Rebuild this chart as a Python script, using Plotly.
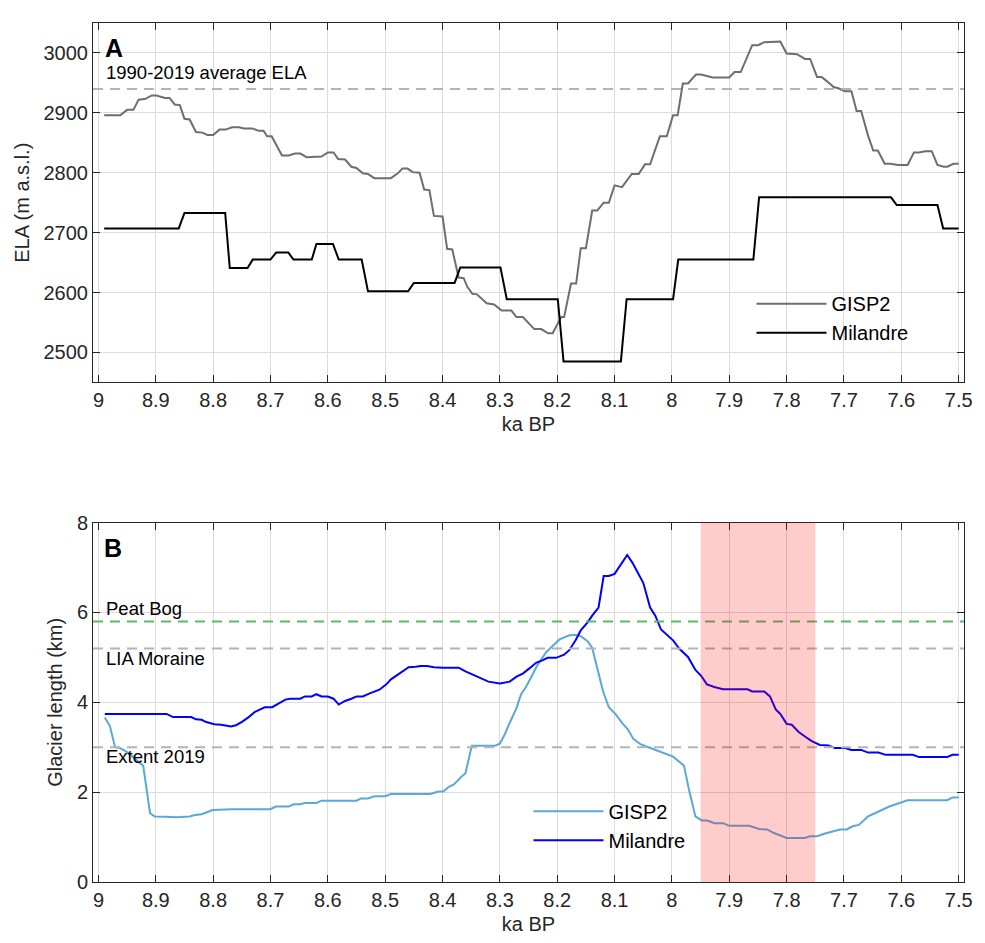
import plotly.graph_objects as go

# ---------------- Panel A: equilibrium line altitude (m a.s.l.) ----------------
gisp2_ela_ka = [
    8.990, 8.962, 8.950, 8.939, 8.930, 8.919, 8.907, 8.899, 8.884, 8.876,
    8.867, 8.858, 8.850, 8.841, 8.830, 8.819, 8.810, 8.800, 8.789, 8.778,
    8.767, 8.755, 8.746, 8.732, 8.720, 8.712, 8.706, 8.698, 8.680, 8.668,
    8.657, 8.648, 8.637, 8.611, 8.600, 8.590, 8.582, 8.570, 8.559, 8.550,
    8.539, 8.530, 8.519, 8.490, 8.478, 8.470, 8.461, 8.452, 8.440, 8.432,
    8.423, 8.415, 8.400, 8.392, 8.383, 8.372, 8.363, 8.357, 8.348, 8.340,
    8.323, 8.310, 8.297, 8.280, 8.271, 8.260, 8.240, 8.228, 8.216, 8.208,
    8.193, 8.188, 8.176, 8.167, 8.159, 8.150, 8.139, 8.130, 8.119, 8.110,
    8.100, 8.087, 8.070, 8.058, 8.047, 8.038, 8.021, 8.009, 7.998, 7.990,
    7.981, 7.972, 7.958, 7.949, 7.929, 7.900, 7.891, 7.880, 7.860, 7.850,
    7.839, 7.811, 7.800, 7.782, 7.768, 7.759, 7.747, 7.739, 7.730, 7.718,
    7.710, 7.698, 7.687, 7.678, 7.670, 7.658, 7.649, 7.641, 7.629, 7.619,
    7.606, 7.589, 7.578, 7.569, 7.558, 7.547, 7.537, 7.526, 7.520, 7.509,
    7.500,
]
gisp2_ela = [
    2896, 2896, 2905, 2905, 2922, 2923, 2929, 2929, 2925, 2925,
    2914, 2913, 2890, 2889, 2868, 2867, 2863, 2863, 2872, 2872,
    2876, 2876, 2874, 2874, 2870, 2870, 2861, 2861, 2829, 2829,
    2832, 2832, 2826, 2827, 2834, 2834, 2823, 2822, 2810, 2808,
    2799, 2798, 2791, 2791, 2799, 2807, 2807, 2801, 2800, 2772,
    2771, 2728, 2727, 2673, 2672, 2625, 2624, 2610, 2598, 2597,
    2582, 2580, 2570, 2570, 2559, 2559, 2539, 2539, 2532, 2532,
    2559, 2559, 2615, 2615, 2674, 2674, 2737, 2737, 2750, 2750,
    2779, 2776, 2798, 2798, 2814, 2814, 2861, 2861, 2896, 2896,
    2949, 2949, 2964, 2964, 2959, 2959, 2968, 2968, 3013, 3013,
    3018, 3019, 2999, 2998, 2990, 2990, 2960, 2960, 2953, 2943,
    2941, 2936, 2936, 2903, 2903, 2862, 2837, 2837, 2815, 2815,
    2813, 2813, 2834, 2834, 2836, 2836, 2813, 2810, 2810, 2815,
    2815,
]

milandre_ela_ka = [
    8.990, 8.860, 8.850, 8.779, 8.771, 8.740, 8.731, 8.700, 8.690, 8.669,
    8.660, 8.628, 8.620, 8.591, 8.581, 8.541, 8.530, 8.460, 8.450, 8.379,
    8.369, 8.299, 8.288, 8.199, 8.189, 8.089, 8.079, 7.998, 7.989, 7.858,
    7.848, 7.618, 7.608, 7.537, 7.527, 7.500,
]
milandre_ela = [
    2707, 2707, 2733, 2733, 2641, 2641, 2655, 2655, 2667, 2667,
    2655, 2655, 2681, 2681, 2655, 2655, 2602, 2602, 2616, 2616,
    2642, 2642, 2589, 2589, 2485, 2485, 2589, 2589, 2655, 2655,
    2759, 2759, 2746, 2746, 2707, 2707,
]

ela_1990_2019 = 2940

# ---------------- Panel B: glacier length (km) ----------------
gisp2_len_ka = [
    8.989, 8.980, 8.971, 8.962, 8.950, 8.940, 8.933, 8.922, 8.910, 8.902,
    8.884, 8.864, 8.841, 8.832, 8.820, 8.801, 8.767, 8.700, 8.691, 8.668,
    8.660, 8.648, 8.640, 8.620, 8.611, 8.550, 8.542, 8.530, 8.519, 8.500,
    8.490, 8.421, 8.409, 8.398, 8.389, 8.380, 8.369, 8.360, 8.349, 8.309,
    8.300, 8.291, 8.283, 8.271, 8.263, 8.254, 8.245, 8.234, 8.219, 8.208,
    8.196, 8.179, 8.168, 8.159, 8.147, 8.139, 8.130, 8.120, 8.110, 8.098,
    8.087, 8.077, 8.067, 8.055, 8.041, 8.018, 7.998, 7.979, 7.970, 7.959,
    7.948, 7.938, 7.926, 7.911, 7.900, 7.865, 7.848, 7.834, 7.822, 7.800,
    7.768, 7.759, 7.747, 7.733, 7.716, 7.707, 7.695, 7.685, 7.674, 7.658,
    7.646, 7.621, 7.589, 7.520, 7.511, 7.500,
]
gisp2_len = [
    3.66, 3.47, 3.00, 2.98, 2.89, 2.78, 2.72, 2.59, 1.53, 1.46,
    1.45, 1.44, 1.46, 1.49, 1.51, 1.60, 1.62, 1.62, 1.68, 1.68,
    1.73, 1.73, 1.76, 1.76, 1.81, 1.81, 1.86, 1.86, 1.91, 1.91,
    1.96, 1.96, 2.01, 2.02, 2.12, 2.17, 2.32, 2.42, 3.03, 3.03,
    3.08, 3.30, 3.54, 3.87, 4.18, 4.35, 4.57, 4.84, 5.12, 5.25,
    5.40, 5.49, 5.50, 5.47, 5.36, 5.21, 4.72, 4.24, 3.89, 3.73,
    3.54, 3.40, 3.18, 3.07, 3.00, 2.89, 2.79, 2.59, 2.04, 1.46,
    1.37, 1.37, 1.31, 1.31, 1.25, 1.25, 1.18, 1.17, 1.09, 0.98,
    0.98, 1.02, 1.02, 1.08, 1.13, 1.17, 1.17, 1.24, 1.27, 1.46,
    1.53, 1.68, 1.82, 1.82, 1.88, 1.88,
]

milandre_len_ka = [
    8.989, 8.881, 8.870, 8.838, 8.830, 8.820, 8.812, 8.798, 8.786, 8.780,
    8.769, 8.760, 8.749, 8.738, 8.727, 8.715, 8.710, 8.697, 8.686, 8.674,
    8.666, 8.648, 8.640, 8.628, 8.620, 8.611, 8.600, 8.590, 8.581, 8.570,
    8.559, 8.550, 8.539, 8.527, 8.510, 8.498, 8.490, 8.478, 8.470, 8.459,
    8.447, 8.438, 8.427, 8.415, 8.400, 8.372, 8.360, 8.346, 8.332, 8.320,
    8.300, 8.283, 8.271, 8.260, 8.248, 8.237, 8.225, 8.217, 8.202, 8.188,
    8.179, 8.168, 8.159, 8.147, 8.139, 8.128, 8.119, 8.110, 8.100, 8.078,
    8.069, 8.058, 8.050, 8.038, 8.029, 8.019, 8.009, 7.998, 7.987, 7.972,
    7.959, 7.949, 7.939, 7.926, 7.911, 7.868, 7.860, 7.839, 7.829, 7.819,
    7.811, 7.800, 7.791, 7.779, 7.768, 7.757, 7.742, 7.727, 7.716, 7.698,
    7.687, 7.670, 7.658, 7.640, 7.627, 7.580, 7.569, 7.520, 7.511, 7.500,
]
milandre_len = [
    3.74, 3.74, 3.67, 3.67, 3.62, 3.61, 3.56, 3.51, 3.50, 3.49,
    3.46, 3.49, 3.57, 3.67, 3.79, 3.86, 3.89, 3.89, 3.98, 4.06,
    4.08, 4.08, 4.13, 4.13, 4.18, 4.13, 4.13, 4.08, 3.95, 4.03,
    4.08, 4.13, 4.13, 4.20, 4.28, 4.40, 4.51, 4.61, 4.69, 4.78,
    4.79, 4.81, 4.81, 4.78, 4.77, 4.77, 4.69, 4.61, 4.52, 4.46,
    4.42, 4.46, 4.57, 4.64, 4.76, 4.88, 4.94, 4.99, 4.99, 5.06,
    5.16, 5.38, 5.60, 5.78, 5.93, 6.11, 6.81, 6.81, 6.86, 7.28,
    7.11, 6.84, 6.66, 6.11, 5.93, 5.62, 5.50, 5.38, 5.19, 5.01,
    4.72, 4.59, 4.40, 4.34, 4.29, 4.29, 4.24, 4.24, 4.13, 3.84,
    3.74, 3.52, 3.50, 3.34, 3.24, 3.14, 3.05, 3.04, 2.98, 2.98,
    2.94, 2.94, 2.88, 2.88, 2.83, 2.83, 2.78, 2.78, 2.83, 2.83,
]

# reference glacier extents (km)
ref_labels = ["Peat Bog", "LIA Moraine", "Extent 2019"]
ref_lengths = [5.8, 5.2, 3.0]
ref_label_y = [6.09, 4.97, 2.79]
ref_colors = ["#5fb865", "#b4b4b4", "#b4b4b4"]

# highlighted interval (ka BP)
band_ka = [7.95, 7.75]

# shared time axis ticks
ka_ticks = [9, 8.9, 8.8, 8.7, 8.6, 8.5, 8.4, 8.3, 8.2, 8.1, 8, 7.9, 7.8, 7.7, 7.6, 7.5]
ka_tick_text = ["9", "8.9", "8.8", "8.7", "8.6", "8.5", "8.4", "8.3", "8.2", "8.1",
                "8", "7.9", "7.8", "7.7", "7.6", "7.5"]
ela_ticks = [2500, 2600, 2700, 2800, 2900, 3000]
len_ticks = [0, 2, 4, 6, 8]

FONT = "Liberation Sans, Arial, Helvetica, sans-serif"
INK = "#262626"
GRID = "#dcdcdc"

fig = go.Figure()

fig.add_trace(go.Scatter(x=gisp2_ela_ka, y=gisp2_ela, mode="lines", name="GISP2",
                         line=dict(color="#6e6e6e", width=2), xaxis="x", yaxis="y",
                         legend="legend"))
fig.add_trace(go.Scatter(x=milandre_ela_ka, y=milandre_ela, mode="lines", name="Milandre",
                         line=dict(color="#000000", width=2), xaxis="x", yaxis="y",
                         legend="legend"))
fig.add_trace(go.Scatter(x=gisp2_len_ka, y=gisp2_len, mode="lines", name="GISP2",
                         line=dict(color="#5ba8d8", width=2), xaxis="x2", yaxis="y2",
                         legend="legend2"))
fig.add_trace(go.Scatter(x=milandre_len_ka, y=milandre_len, mode="lines", name="Milandre",
                         line=dict(color="#0000ff", width=2), xaxis="x2", yaxis="y2",
                         legend="legend2"))


def x_axis(domain_anchor):
    return dict(
        anchor=domain_anchor, range=[9.0095, 7.4907], tickmode="array",
        tickvals=ka_ticks, ticktext=ka_tick_text,
        showline=True, linecolor=INK, linewidth=1, mirror="allticks",
        ticks="inside", ticklen=7, tickcolor=INK, showgrid=True,
        gridcolor=GRID, gridwidth=1, zeroline=False,
        tickfont=dict(family=FONT, size=20, color=INK),
        title=dict(text="ka BP", font=dict(family=FONT, size=20, color=INK), standoff=6),
    )


def y_axis(domain, rng, ticks, title, anchor):
    return dict(
        domain=domain, anchor=anchor, range=rng, tickmode="array", tickvals=ticks,
        showline=True, linecolor=INK, linewidth=1, mirror="allticks",
        ticks="inside", ticklen=7, tickcolor=INK, showgrid=True,
        gridcolor=GRID, gridwidth=1, zeroline=False,
        tickfont=dict(family=FONT, size=20, color=INK),
        title=dict(text=title, font=dict(family=FONT, size=20, color=INK), standoff=8),
    )


xa1 = x_axis("y")
xa2 = x_axis("y2")

shapes = [
    dict(type="line", xref="x domain", yref="y", x0=0, x1=1,
         y0=ela_1990_2019, y1=ela_1990_2019,
         line=dict(color="#b4b4b4", width=2, dash="10px,7px"), layer="above"),
]
for val, col in zip(ref_lengths, ref_colors):
    shapes.append(dict(type="line", xref="x2 domain", yref="y2", x0=0, x1=1,
                       y0=val, y1=val, line=dict(color=col, width=2, dash="10px,7px"),
                       layer="above"))
shapes.append(dict(type="rect", xref="x2", yref="y2 domain", x0=band_ka[0], x1=band_ka[1],
                   y0=0, y1=1, fillcolor="rgba(255,0,0,0.2)", line=dict(width=0),
                   layer="above"))

annotations = [
    dict(text="<b>A</b>", xref="x", yref="y", x=8.992, y=3008, xanchor="left",
         yanchor="middle", showarrow=False, font=dict(family=FONT, size=25, color="#000000")),
    dict(text="1990-2019 average ELA", xref="x", yref="y", x=8.990, y=2968,
         xanchor="left", yanchor="middle", showarrow=False,
         font=dict(family=FONT, size=18.5, color="#000000")),
    dict(text="<b>B</b>", xref="x2", yref="y2", x=8.994, y=7.43, xanchor="left",
         yanchor="middle", showarrow=False, font=dict(family=FONT, size=25, color="#000000")),
]
for lab, ly in zip(ref_labels, ref_label_y):
    annotations.append(dict(text=lab, xref="x2", yref="y2", x=8.990, y=ly, xanchor="left",
                            yanchor="middle", showarrow=False,
                            font=dict(family=FONT, size=18.5, color="#000000")))

fig.update_layout(
    width=985, height=943,
    margin=dict(l=93, r=12, t=13, b=60),
    paper_bgcolor="white", plot_bgcolor="white",
    showlegend=True,
    xaxis=xa1,
    yaxis=y_axis([0.5816, 1.0], [2450, 3050], ela_ticks, "ELA (m a.s.l.)", "x"),
    xaxis2=xa2,
    yaxis2=y_axis([0.0, 0.4184], [0, 8], len_ticks, "Glacier length (km)", "x2"),
    legend=dict(x=0.756, y=0.696, xanchor="left", yanchor="top",
                bgcolor="rgba(0,0,0,0)", borderwidth=0, itemwidth=70,
                font=dict(family=FONT, size=20, color="#000000"), tracegroupgap=0),
    legend2=dict(x=0.500, y=0.105, xanchor="left", yanchor="top",
                 bgcolor="rgba(0,0,0,0)", borderwidth=0, itemwidth=70,
                 font=dict(family=FONT, size=20, color="#000000"), tracegroupgap=0),
    shapes=shapes,
    annotations=annotations,
)

fig.write_html("out.html")
